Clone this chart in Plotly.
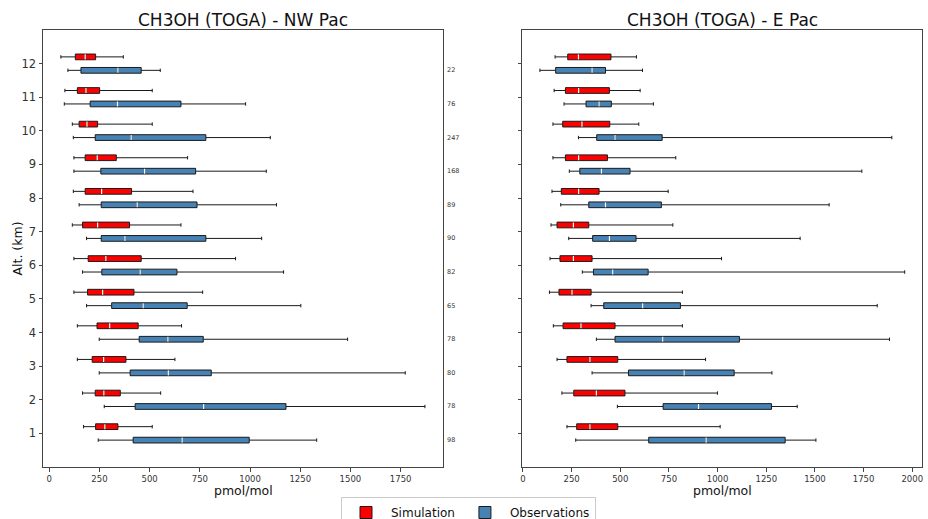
import plotly.graph_objects as go

alts = [1, 2, 3, 4, 5, 6, 7, 8, 9, 10, 11, 12]

# NW Pac - Simulation
nw_sim_low = [171, 166, 140, 140, 123, 123, 115, 120, 123, 115, 78, 58]
nw_sim_q1 = [231, 229, 214, 238, 191, 194, 166, 179, 179, 149, 140, 130]
nw_sim_med = [277, 272, 271, 301, 266, 282, 241, 261, 239, 188, 183, 179]
nw_sim_q3 = [342, 354, 382, 443, 422, 458, 400, 410, 334, 241, 251, 231]
nw_sim_high = [513, 555, 626, 659, 764, 928, 656, 716, 689, 513, 513, 369]

# NW Pac - Observations
nw_obs_low = [244, 274, 249, 249, 186, 166, 186, 149, 123, 120, 75, 93]
nw_obs_q1 = [418, 428, 403, 448, 311, 262, 259, 259, 257, 229, 204, 158]
nw_obs_med = [662, 769, 593, 591, 468, 453, 377, 438, 475, 408, 340, 342]
nw_obs_q3 = [996, 1179, 807, 767, 687, 636, 780, 736, 729, 780, 656, 458]
nw_obs_high = [1332, 1871, 1773, 1486, 1253, 1167, 1058, 1132, 1081, 1101, 978, 553]
nw_counts = [98, 78, 80, 78, 65, 82, 90, 89, 168, 247, 76, 22]

# E Pac - Simulation
e_sim_low = [226, 200, 175, 156, 136, 139, 144, 149, 154, 154, 160, 165]
e_sim_q1 = [276, 261, 226, 206, 185, 190, 175, 197, 218, 204, 218, 230]
e_sim_med = [344, 377, 344, 298, 252, 259, 259, 286, 286, 303, 286, 285]
e_sim_q3 = [487, 524, 487, 473, 350, 355, 338, 391, 434, 446, 444, 452]
e_sim_high = [1013, 999, 938, 819, 819, 1020, 770, 746, 785, 595, 602, 583]

# E Pac - Observations
e_obs_low = [271, 485, 355, 377, 350, 305, 235, 194, 238, 285, 211, 87]
e_obs_q1 = [646, 720, 542, 473, 415, 362, 358, 338, 292, 379, 324, 168]
e_obs_med = [941, 902, 828, 718, 615, 461, 444, 424, 403, 473, 391, 355]
e_obs_q3 = [1347, 1277, 1085, 1112, 809, 643, 581, 711, 550, 715, 454, 424]
e_obs_high = [1505, 1409, 1279, 1883, 1820, 1961, 1424, 1573, 1741, 1895, 670, 614]

x_ticks_nw = [0, 250, 500, 750, 1000, 1250, 1500, 1750]
x_ticks_e = [0, 250, 500, 750, 1000, 1250, 1500, 1750, 2000]

SIM_COLOR = "#ff0000"
OBS_COLOR = "#4682b4"
OFFSET = 0.2
BOXW = 0.17
FONT = "DejaVu Sans"

fig = go.Figure()


def add_box(name, color, pos, low, q1, med, q3, high, xa, ya, showlegend):
    fig.add_trace(go.Box(
        name=name, orientation="h", y=pos,
        lowerfence=low, q1=q1, median=med, q3=q3, upperfence=high,
        fillcolor=color, line=dict(color="#1a1a1a", width=1),
        width=BOXW, whiskerwidth=0.6, boxpoints=False,
        xaxis=xa, yaxis=ya, showlegend=showlegend, legendgroup=name,
        hoverinfo="skip",
    ))
    mx, my = [], []
    for p, m in zip(pos, med):
        mx += [m, m, None]
        my += [p - BOXW / 2 + 0.01, p + BOXW / 2 - 0.01, None]
    fig.add_trace(go.Scatter(
        x=mx, y=my, mode="lines", line=dict(color="white", width=1.2),
        xaxis=xa, yaxis=ya, showlegend=False, hoverinfo="skip",
    ))


sim_pos = [a + OFFSET for a in alts]
obs_pos = [a - OFFSET for a in alts]

add_box("Simulation", SIM_COLOR, sim_pos, nw_sim_low, nw_sim_q1, nw_sim_med, nw_sim_q3, nw_sim_high, "x", "y", True)
add_box("Observations", OBS_COLOR, obs_pos, nw_obs_low, nw_obs_q1, nw_obs_med, nw_obs_q3, nw_obs_high, "x", "y", True)
add_box("Simulation", SIM_COLOR, sim_pos, e_sim_low, e_sim_q1, e_sim_med, e_sim_q3, e_sim_high, "x2", "y2", False)
add_box("Observations", OBS_COLOR, obs_pos, e_obs_low, e_obs_q1, e_obs_med, e_obs_q3, e_obs_high, "x2", "y2", False)

W, H = 928, 519
ML, MR, MT, MB = 43, 6, 30, 52
PW = W - ML - MR
PH = H - MT - MB

dom1 = [0, 400 / PW]
dom2 = [(522 - ML) / PW, 1]

axis_common = dict(showline=True, mirror=True, linecolor="#444", linewidth=1,
                   ticks="outside", ticklen=3.5, tickcolor="#444",
                   showgrid=False, zeroline=False)

annotations = [
    dict(text="CH3OH (TOGA) - NW Pac", x=sum(dom1) / 2, y=1, xref="paper", yref="paper",
         xanchor="center", yanchor="bottom", yshift=-2, showarrow=False,
         font=dict(size=17, color="#111", family=FONT)),
    dict(text="CH3OH (TOGA) - E Pac", x=sum(dom2) / 2, y=1, xref="paper", yref="paper",
         xanchor="center", yanchor="bottom", yshift=-2, showarrow=False,
         font=dict(size=17, color="#111", family=FONT)),
    dict(text="pmol/mol", x=sum(dom1) / 2, y=-(490 - (H - MB)) / PH, xref="paper", yref="paper",
         xanchor="center", yanchor="middle", showarrow=False,
         font=dict(size=12.5, color="#111", family=FONT)),
    dict(text="pmol/mol", x=sum(dom2) / 2, y=-(490 - (H - MB)) / PH, xref="paper", yref="paper",
         xanchor="center", yanchor="middle", showarrow=False,
         font=dict(size=12.5, color="#111", family=FONT)),
    dict(text="Alt. (km)", x=(17 - ML) / PW, y=0.5, xref="paper", yref="paper",
         xanchor="center", yanchor="middle", textangle=-90, showarrow=False,
         font=dict(size=12.5, color="#111", family=FONT)),
]
for p, n in zip(obs_pos, nw_counts):
    annotations.append(dict(text=str(n), x=1, y=p, xref="x domain", yref="y",
                            xanchor="left", yanchor="middle", xshift=2, showarrow=False,
                            font=dict(size=6.5, color="#333", family=FONT)))

fig.update_layout(
    width=W, height=H,
    margin=dict(l=ML, r=MR, t=MT, b=MB, autoexpand=False),
    paper_bgcolor="white", plot_bgcolor="white",
    font=dict(family=FONT, color="#222"),
    boxmode="overlay",
    xaxis=dict(domain=dom1, range=[-31, 1961], tickvals=x_ticks_nw,
               tickfont=dict(size=8.5, color="#333"), anchor="y", **axis_common),
    yaxis=dict(domain=[0, 1], range=[0, 13], tickvals=alts,
               tickfont=dict(size=11.5, color="#333"), anchor="x", **axis_common),
    xaxis2=dict(domain=dom2, range=[-5, 2050], tickvals=x_ticks_e,
                tickfont=dict(size=8.5, color="#333"), anchor="y2", **axis_common),
    yaxis2=dict(domain=[0, 1], range=[0, 13], tickvals=alts, showticklabels=False,
                anchor="x2", **axis_common),
    legend=dict(orientation="h", x=(468.5 - ML) / PW, y=-(497 - (H - MB)) / PH,
                xanchor="center", yanchor="top", bordercolor="#cccccc", borderwidth=1,
                font=dict(size=12, color="#111", family=FONT), itemwidth=40,
                tracegroupgap=0),
    annotations=annotations,
    showlegend=True,
)

fig.write_html("out.html")
